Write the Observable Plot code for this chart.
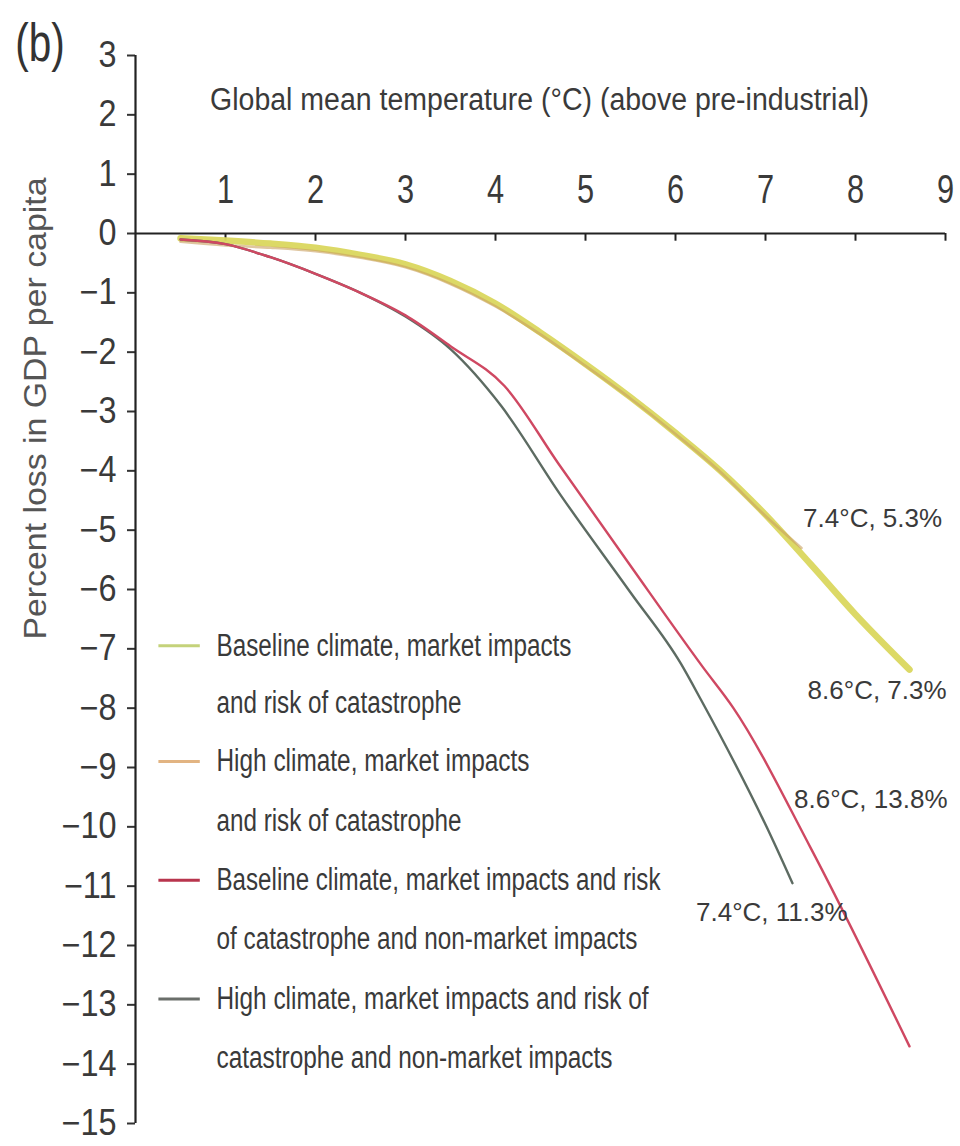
<!DOCTYPE html>
<html><head><meta charset="utf-8">
<script src="https://cdn.jsdelivr.net/npm/d3@7"></script>
<script src="https://cdn.jsdelivr.net/npm/@observablehq/plot@0.6"></script>
<style>
body{margin:0;background:#fff;}
#chart svg{display:block;}
</style></head><body><div id="chart"></div>
<script>
// ---- data ----
const seriesNames = [
  "Baseline climate, market impacts and risk of catastrophe",
  "High climate, market impacts and risk of catastrophe",
  "Baseline climate, market impacts and risk of catastrophe and non-market impacts",
  "High climate, market impacts and risk of catastrophe and non-market impacts"
];
const tempBaseMarket = [0.5, 1, 1.5, 2, 2.5, 3, 3.5, 4, 4.5, 5, 5.5, 6, 6.5, 7, 7.5, 8, 8.6];
const lossBaseMarket = [-0.08, -0.12, -0.17, -0.24, -0.36, -0.52, -0.8, -1.18, -1.67, -2.2, -2.76, -3.36, -4.0, -4.74, -5.57, -6.42, -7.35];
const tempHighMarket = [0.5, 1, 1.5, 2, 2.5, 3, 3.5, 4, 4.5, 5, 5.5, 6, 6.5, 7, 7.4];
const lossHighMarket = [-0.14, -0.2, -0.24, -0.3, -0.41, -0.57, -0.85, -1.23, -1.7, -2.23, -2.78, -3.38, -4.02, -4.76, -5.3];
const tempBaseAll = [0.5, 1, 1.5, 2, 2.5, 3, 3.5, 4.1, 4.7, 5.5, 6.3, 6.64, 7.5, 8.6];
const lossBaseAll = [-0.1, -0.18, -0.4, -0.68, -1.0, -1.38, -1.9, -2.57, -3.88, -5.6, -7.3, -7.99, -10.35, -13.7];
const tempHighAll = [0.5, 1, 1.5, 2, 2.5, 3, 3.5, 4.06, 4.72, 5.5, 6.06, 6.28, 7.09, 7.3];
const lossHighAll = [-0.1, -0.18, -0.4, -0.68, -1.0, -1.4, -1.95, -2.9, -4.4, -6.05, -7.25, -7.85, -10.25, -10.95];

const xTicks = [1, 2, 3, 4, 5, 6, 7, 8, 9];
const yTicks = [3, 2, 1, 0, -1, -2, -3, -4, -5, -6, -7, -8, -9, -10, -11, -12, -13, -14, -15];

const endLabels = ["7.4°C, 5.3%", "8.6°C, 7.3%", "8.6°C, 13.8%", "7.4°C, 11.3%"];
const legendLines = [
  ["Baseline climate, market impacts", "and risk of catastrophe"],
  ["High climate, market impacts", "and risk of catastrophe"],
  ["Baseline climate, market impacts and risk", "of catastrophe and non-market impacts"],
  ["High climate, market impacts and risk of", "catastrophe and non-market impacts"]
];
const xTitle = "Global mean temperature (°C) (above pre-industrial)";
const yTitle = "Percent loss in GDP per capita";
const panelTag = "(b)";

// ---- tables built from the arrays ----
const zip = (xs, ys, s) => xs.map((x, i) => ({temp: x, loss: ys[i], series: s}));
const rows = [
  ...zip(tempBaseMarket, lossBaseMarket, seriesNames[0]),
  ...zip(tempHighMarket, lossHighMarket, seriesNames[1]),
  ...zip(tempHighAll, lossHighAll, seriesNames[3]),
  ...zip(tempBaseAll, lossBaseAll, seriesNames[2])
];

// ---- presentation (positions / styles kept apart from data) ----
const font = "'Liberation Sans',Arial,Helvetica,sans-serif";
const colors = ["#dad75e", "#c9a061", "#cf4862", "#5d6b62"];
const swatchColors = ["#c4d27a", "#e2b482", "#b8354d", "#6a6e6a"];
const widths = [6.5, 2.6, 2.4, 2.4];
const opac = [0.95, 0.6, 1, 1];
const endPos = [[8.19, -4.8], [8.24, -7.7], [8.17, -9.55], [7.07, -11.45]];
const legendRowY = [-6.95, -7.92, -8.9, -9.9, -10.9, -11.9, -12.9, -13.9];
const legendWidths = [355, 245, 313, 245, 444, 421, 432, 396];

const legendText = legendLines.flat().map((t, i) => ({t, y: legendRowY[i]}));
const swatches = seriesNames.map((s, i) => ({s, y: legendRowY[i * 2], i}));

const minus = d => d < 0 ? "\u2212" + Math.abs(d) : String(d);

const lineMark = (i) => Plot.line(rows.filter(d => d.series === seriesNames[i]), {
  x: "temp", y: "loss", stroke: colors[i], strokeWidth: widths[i], strokeOpacity: opac[i],
  curve: "monotone-x", strokeLinecap: "round", strokeLinejoin: "round"
});

const chart = Plot.plot({
  width: 960, height: 1146,
  marginLeft: 135, marginRight: 15, marginTop: 55, marginBottom: 23,
  x: {domain: [0, 9]},
  y: {domain: [-15, 3]},
  style: {fontFamily: font, background: "#fff", color: "#333"},
  marks: [
    Plot.axisY({ticks: yTicks, tickFormat: minus, tickSize: 8, tickPadding: 11, fontSize: 36, label: null, strokeWidth: 2, fill: "#3a3a3a", className: "cond-y"}),
    Plot.axisX({ticks: [], label: null}),
    Plot.ruleX([0], {y1: -15, y2: 3, strokeWidth: 2.2, stroke: "#222"}),
    Plot.ruleY([0], {x1: 0, x2: 9, strokeWidth: 2.2, stroke: "#222"}),
    Plot.ruleX(xTicks, {x: d => d, y1: 0, y2: -0.13, strokeWidth: 2, stroke: "#222"}),
    Plot.text(xTicks, {x: d => d, y: 0, dy: -44, text: d => String(d), fontSize: 41, fill: "#3a3a3a", className: "cond"}),
    Plot.text([xTitle], {x: 4.49, y: 2.25, text: d => d, fontSize: 31, fill: "#3a3a3a", className: "fit-title"}),
    Plot.text([yTitle], {x: -1.11, y: -2.95, rotate: -90, text: d => d, fontSize: 31, fill: "#555", className: "fit-ytitle"}),
    Plot.text([panelTag], {x: -1.06, y: 3.2, text: d => d, fontSize: 54, fill: "#333", className: "cond"}),
    lineMark(0), lineMark(1), lineMark(3), lineMark(2),
    Plot.text(endLabels, {x: (d, i) => endPos[i][0], y: (d, i) => endPos[i][1], text: d => d, fontSize: 26, fill: "#3a3a3a"}),
    Plot.ruleY(swatches, {y: "y", x1: 0.26, x2: 0.72, stroke: d => swatchColors[d.i], strokeWidth: 3}),
    Plot.text(legendText, {x: 0.9, y: "y", text: "t", textAnchor: "start", fontSize: 31, fill: "#3a3a3a", className: "fit-legend"})
  ]
});

document.getElementById("chart").appendChild(chart);
const svg = d3.select(chart);
const squeeze = (sel, k) => svg.selectAll(sel).each(function() {
  const len = this.getComputedTextLength();
  if (len > 0) d3.select(this).attr("textLength", (len * k).toFixed(1)).attr("lengthAdjust", "spacingAndGlyphs");
});
svg.selectAll("g.fit-legend text").each(function(d, i) {
  d3.select(this).attr("textLength", legendWidths[i]).attr("lengthAdjust", "spacingAndGlyphs");
});
svg.selectAll("g.fit-title text").attr("textLength", 659).attr("lengthAdjust", "spacingAndGlyphs");
svg.selectAll("g.fit-ytitle text").attr("textLength", 462).attr("lengthAdjust", "spacingAndGlyphs");
squeeze("g.cond text", 0.75);
squeeze("g.cond-y text", 0.9);
</script>
</body></html>
